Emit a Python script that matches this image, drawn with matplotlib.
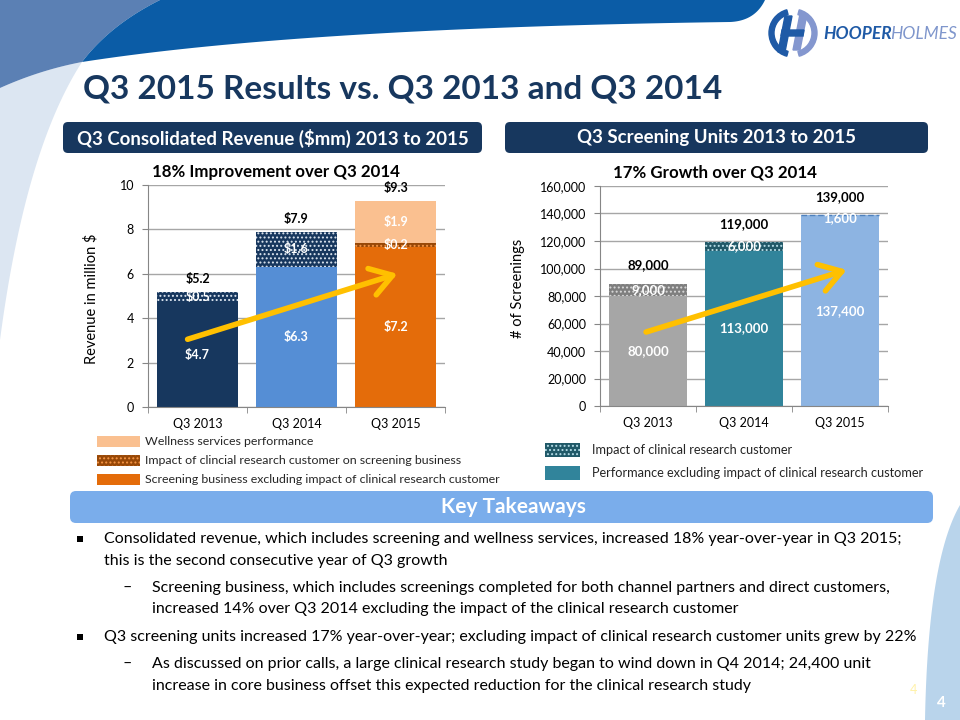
import numpy as np
import matplotlib.pyplot as plt
from matplotlib.patches import Polygon, FancyBboxPatch, Rectangle, Wedge

plt.rcParams['font.family'] = ['Lato', 'DejaVu Sans']
plt.rcParams['hatch.linewidth'] = 0.9

# data
years = ['Q3 2013', 'Q3 2014', 'Q3 2015']
rev_core = [4.7, 6.3, 7.2]
rev_clin = [0.5, 1.6, 0.2]
rev_well = [0.0, 0.0, 1.9]
rev_total = [5.2, 7.9, 9.3]
units_core = [80000, 113000, 137400]
units_clin = [9000, 6000, 1600]
units_total = [89000, 119000, 139000]
rev_arrow = [(-0.1, 3.05), (2.02, 6.0)]
units_arrow = [(-0.02, 53800), (2.07, 99000)]

bullet_lines = [
    ('sq', 'Consolidated revenue, which includes screening and wellness services, increased 18% year-over-year in Q3 2015;'),
    ('', 'this is the second consecutive year of Q3 growth'),
    ('dash', 'Screening business, which includes screenings completed for both channel partners and direct customers,'),
    ('', 'increased 14% over Q3 2014 excluding the impact of the clinical research customer'),
    ('sq', 'Q3 screening units increased 17% year-over-year; excluding impact of clinical research customer units grew by 22%'),
    ('dash', 'As discussed on prior calls, a large clinical research study began to wind down in Q4 2014; 24,400 unit'),
    ('', 'increase in core business offset this expected reduction for the clinical research study'),
]
bullet_y = [539, 561, 588, 609, 637, 664, 686]
bullet_indent = [0, 0, 1, 1, 0, 1, 1]

navy = '#17375E'
fig = plt.figure(figsize=(9.6, 7.2), dpi=100)
bg = fig.add_axes([0, 0, 1, 1], zorder=0)
bg.set_xlim(0, 960)
bg.set_ylim(720, 0)
bg.axis('off')


def bez(p0, p1, p2, n=40):
    t = np.linspace(0, 1, n)[:, None]
    return (1 - t) ** 2 * np.array(p0) + 2 * (1 - t) * t * np.array(p1) + t ** 2 * np.array(p2)


# slide decoration
light = np.vstack([bez((0, 88), (40, 70), (82, 62)), bez((82, 62), (25, 150), (0, 340))])
bg.add_patch(Polygon(light, closed=True, color='#DCE6F2', lw=0))
medium = np.vstack([[(0, 0), (160, 0)], bez((160, 0), (110, 25), (82, 62)), bez((82, 62), (40, 70), (0, 88))])
bg.add_patch(Polygon(medium, closed=True, color='#5B80B4', lw=0))
dark = np.vstack([[(160, 0), (765, 0)], bez((765, 0), (755, 21), (730, 22)),
                  bez((730, 22), (300, 28), (82, 62)), bez((82, 62), (110, 25), (160, 0))])
bg.add_patch(Polygon(dark, closed=True, color='#0B5CA6', lw=0))
swoosh = np.vstack([bez((960, 505), (928, 560), (925, 720)), [(960, 720)]])
bg.add_patch(Polygon(swoosh, closed=True, color='#B9D4EB', lw=0))

# logo
bg.add_patch(Wedge((793, 33), 24, 105, 255, width=5, color='#1F5AA6'))
bg.add_patch(Wedge((793, 33), 24, -75, 75, width=5, color='#8497CF'))
bg.add_patch(Polygon([(785, 16), (792, 16), (785, 52), (778, 52)], color='#1F5AA6'))
bg.add_patch(Polygon([(800, 14), (807, 14), (800, 50), (793, 50)], color='#8497CF'))
bg.add_patch(Polygon([(782, 30), (804, 30), (803, 36), (781, 36)], color='#1F5AA6'))
t_hooper = bg.text(823, 34, 'HOOPER', color='#1F5AA6', fontsize=12.5, fontweight='bold',
                   style='italic', va='center')
renderer = fig.canvas.get_renderer()
bb = t_hooper.get_window_extent(renderer)
bg.text(bb.x1 - 1, 34, 'HOLMES', color='#7F96CC', fontsize=12.5, style='italic', va='center')

bg.text(83, 89, 'Q3 2015 Results vs. Q3 2013 and Q3 2014', color=navy, fontsize=24,
        fontweight='bold', va='center')

for x0, x1, s in [(63, 482, r'Q3 Consolidated Revenue (\$mm) 2013 to 2015'),
                  (505, 928, 'Q3 Screening Units 2013 to 2015')]:
    bg.add_patch(FancyBboxPatch((x0, 122), x1 - x0, 31, boxstyle='round,pad=0,rounding_size=5',
                                color=navy, lw=0))
    bg.text((x0 + x1) / 2, 138, s, color='white', fontsize=13.4, fontweight='bold', ha='center', va='center')

bg.text(276, 172, '18% Improvement over Q3 2014', fontsize=12.2, fontweight='bold', ha='center', va='center')
bg.text(715, 172, '17% Growth over Q3 2014', fontsize=12.2, fontweight='bold', ha='center', va='center')
bg.text(91, 299, r'Revenue in million \$', fontsize=10.5, rotation=90, ha='center', va='center')
bg.text(518, 288, '# of Screenings', fontsize=10.5, rotation=90, ha='center', va='center')

x = np.arange(len(years))


def style_axes(ax, ymax, step, fmt):
    ax.set_facecolor('none')
    ax.set_xlim(-0.5, 2.5)
    ax.set_ylim(0, ymax)
    ticks = np.arange(0, ymax + 1, step)
    ax.set_yticks(ticks)
    ax.set_yticklabels([fmt(v) for v in ticks], fontsize=9)
    ax.set_xticks(x)
    ax.set_xticklabels(years, fontsize=9)
    ax.set_xticks([-0.5, 0.5, 1.5, 2.5], minor=True)
    ax.tick_params(axis='x', which='major', length=0, pad=8)
    ax.tick_params(axis='x', which='minor', length=4, color='#868686')
    ax.tick_params(axis='y', length=4, color='#868686', pad=6)
    ax.grid(axis='y', color='#A6A6A6', lw=1)
    ax.set_axisbelow(True)
    for s in ['top', 'right']:
        ax.spines[s].set_visible(False)
    for s in ['left', 'bottom']:
        ax.spines[s].set_color('#868686')


def arrow(ax, pts):
    ax.annotate('', xy=pts[1], xytext=pts[0], annotation_clip=False,
                arrowprops=dict(arrowstyle='->,head_length=0.7,head_width=0.45', color='#FFC000',
                                lw=4, mutation_scale=22, shrinkA=0, shrinkB=0), zorder=5)


# revenue chart
ax1 = fig.add_axes([148 / 960, 1 - 407 / 720, 297 / 960, 222 / 720], zorder=2)
style_axes(ax1, 10, 2, lambda v: f'{v:.0f}')
w = 0.82
core_c = [navy, '#558ED5', '#E46C0A']
clin_c = [navy, navy, '#984807']
clin_h = ['#DDE6F0', '#DDE6F0', '#F79646']
ax1.bar(x, rev_core, w, color=core_c, lw=0)
for i in range(3):
    ax1.bar(x[i], rev_clin[i], w, bottom=rev_core[i], facecolor=clin_c[i], edgecolor=clin_h[i],
            hatch='....', lw=0)
well_bottom = np.array(rev_core) + np.array(rev_clin)
ax1.bar(x, rev_well, w, bottom=well_bottom, color='#FAC090', lw=0)
for i in range(3):
    ax1.text(x[i], rev_core[i] / 2, f'\\${rev_core[i]:.1f}', color='white', fontsize=9,
             fontweight='bold', ha='center', va='center')
    ax1.text(x[i], rev_core[i] + rev_clin[i] / 2, f'\\${rev_clin[i]:.1f}', color='white', fontsize=9,
             fontweight='bold', ha='center', va='center')
    if rev_well[i] > 0:
        ax1.text(x[i], well_bottom[i] + rev_well[i] / 2, f'\\${rev_well[i]:.1f}', color='white',
                 fontsize=9, fontweight='bold', ha='center', va='center')
    ax1.annotate(f'\\${rev_total[i]:.1f}', (x[i], rev_total[i]), xytext=(0, 9), textcoords='offset points',
                 fontsize=9, fontweight='bold', ha='center', va='center')
arrow(ax1, rev_arrow)

# screening units chart
ax2 = fig.add_axes([600 / 960, 1 - 406 / 720, 288 / 960, 220 / 720], zorder=2)
style_axes(ax2, 160000, 20000, lambda v: f'{v:,.0f}')
w2 = 0.81
ucore_c = ['#A6A6A6', '#31849B', '#8DB4E2']
uclin_c = ['#7F7F7F', '#215968', '#8DB4E2']
uclin_h = ['#D9D9D9', '#B7DEE8', '#8DB4E2']
ax2.bar(x, units_core, w2, color=ucore_c, lw=0)
for i in range(3):
    ax2.bar(x[i], units_clin[i], w2, bottom=units_core[i], facecolor=uclin_c[i], edgecolor=uclin_h[i],
            hatch='....', lw=0)
ax2.hlines(units_total[2], x[2] - w2 / 2, x[2] + w2 / 2, color='#4F81BD', lw=1, linestyles=(0, (4, 2)))
for i in range(3):
    ax2.text(x[i], units_core[i] / 2, f'{units_core[i]:,}', color='white', fontsize=9.5,
             fontweight='bold', ha='center', va='center')
    ax2.text(x[i], units_core[i] + units_clin[i] / 2 - (1200 if i == 2 else 0), f'{units_clin[i]:,}',
             color='white', fontsize=9.5, fontweight='bold', ha='center', va='center')
    ax2.annotate(f'{units_total[i]:,}', (x[i], units_total[i]), xytext=(0, 13), textcoords='offset points',
                 fontsize=9.5, fontweight='bold', ha='center', va='center')
arrow(ax2, units_arrow)

# legends
leg1 = [('#FAC090', '#FAC090', None, 'Wellness services performance'),
        ('#984807', '#F79646', '....', 'Impact of clincial research customer on screening business'),
        ('#E46C0A', '#E46C0A', None, 'Screening business excluding impact of clinical research customer')]
for k, (fc, ec, h, s) in enumerate(leg1):
    yy = 436 + 19 * k
    bg.add_patch(Rectangle((97, yy), 43, 11, facecolor=fc, edgecolor=ec, hatch=h, lw=0))
    bg.text(145, yy + 5.5, s, fontsize=8.9, color='#262626', va='center')
leg2 = [('#215968', '#B7DEE8', '....', 'Impact of clinical research customer'),
        ('#31849B', '#31849B', None, 'Performance excluding impact of clinical research customer')]
for k, (fc, ec, h, s) in enumerate(leg2):
    yy = 443 + 23 * k
    bg.add_patch(Rectangle((545, yy), 35, 14, facecolor=fc, edgecolor=ec, hatch=h, lw=0))
    bg.text(592, yy + 7, s, fontsize=9.2, color='#262626', va='center')

# key takeaways
bg.add_patch(FancyBboxPatch((70, 491), 863, 32, boxstyle='round,pad=0,rounding_size=6',
                            color='#7AADEB', lw=0))
bg.text(513, 507, 'Key Takeaways', color='white', fontsize=15, fontweight='bold', ha='center', va='center')
for (kind, s), yy, ind in zip(bullet_lines, bullet_y, bullet_indent):
    if kind == 'sq':
        bg.add_patch(Rectangle((77, yy - 3), 6, 6, color='black', lw=0))
    elif kind == 'dash':
        bg.text(123, yy, '–', fontsize=11.5, va='center')
    bg.text(152 if ind else 104, yy, s, fontsize=11.5, va='center')

bg.text(913, 690, '4', color='#FFF2A8', fontsize=9, ha='center', va='center')
bg.text(941, 703, '4', color='white', fontsize=11, fontweight='bold', ha='center', va='center')

fig.savefig('out.png', dpi=100)
